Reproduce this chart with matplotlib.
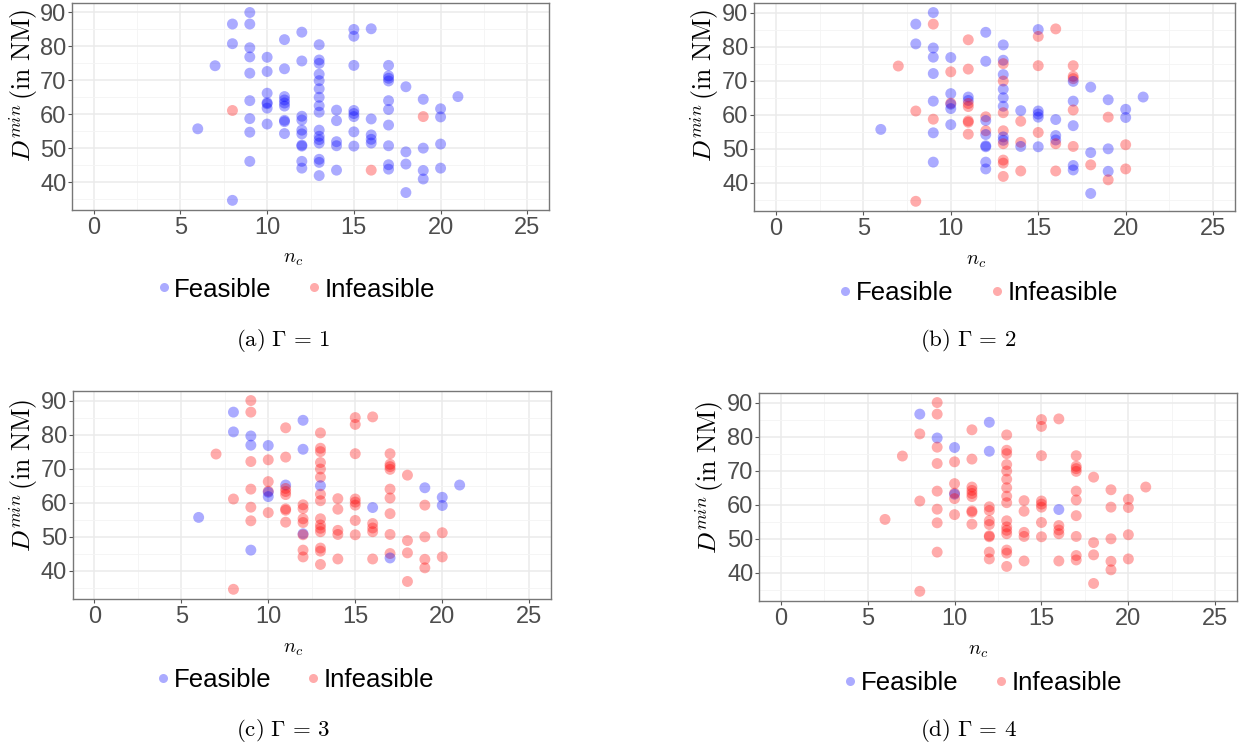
import matplotlib
matplotlib.use('Agg')
import matplotlib.pyplot as plt
from matplotlib.lines import Line2D
from matplotlib.ticker import MultipleLocator

# ---------------- data ----------------
nc = [6,
      7,
      8, 8, 8, 8,
      9, 9, 9, 9, 9, 9, 9, 9, 9,
      10, 10, 10, 10, 10, 10, 10,
      11, 11, 11, 11, 11, 11, 11, 11, 11,
      12, 12, 12, 12, 12, 12, 12, 12, 12, 12,
      13, 13, 13, 13, 13, 13, 13, 13, 13, 13, 13, 13, 13, 13, 13, 13,
      14, 14, 14, 14, 14,
      15, 15, 15, 15, 15, 15, 15, 15,
      16, 16, 16, 16, 16, 16,
      17, 17, 17, 17, 17, 17, 17, 17, 17, 17,
      18, 18, 18, 18,
      19, 19, 19, 19, 19,
      20, 20, 20, 20,
      21]
dmin = [55.7,
        74.3,
        86.6, 80.8, 61.1, 34.6,
        90.0, 86.6, 79.6, 76.9, 72.1, 64.0, 58.7, 54.7, 46.1,
        76.8, 72.6, 66.2, 63.4, 63.1, 61.8, 57.1,
        82.0, 73.4, 65.2, 64.2, 63.3, 62.4, 58.2, 57.8, 54.3,
        84.2, 75.7, 59.4, 58.3, 55.3, 54.2, 50.9, 50.6, 46.1, 44.1,
        80.5, 76.0, 75.0, 71.8, 69.9, 67.5, 65.0, 62.5, 60.6, 55.3, 53.5, 52.5, 51.5, 46.7, 45.8, 41.9,
        61.2, 58.1, 51.9, 50.7, 43.5,
        85.0, 83.0, 74.4, 61.1, 60.2, 59.3, 54.8, 50.6,
        85.2, 58.6, 53.9, 52.6, 51.5, 43.5,
        74.4, 71.3, 70.6, 69.8, 64.0, 61.4, 56.8, 50.7, 45.1, 43.8,
        68.1, 48.9, 45.3, 36.9,
        64.4, 59.3, 50.0, 43.4, 40.9,
        61.6, 59.2, 51.2, 44.1,
        65.2]
# largest Gamma for which the case is still feasible (0 = infeasible already at Gamma = 1)
feasible_up_to = [3,
                  1,
                  4, 3, 0, 1,
                  2, 1, 4, 3, 2, 2, 1, 2, 3,
                  4, 1, 2, 1, 4, 3, 2,
                  1, 1, 3, 2, 1, 1, 1, 1, 1,
                  4, 4, 1, 2, 1, 2, 3, 2, 2, 2,
                  2, 2, 1, 2, 1, 2, 3, 2, 1, 1, 2, 2, 1, 1, 1, 1,
                  2, 1, 1, 2, 1,
                  2, 1, 1, 2, 2, 2, 1, 2,
                  1, 4, 2, 2, 1, 0,
                  1, 1, 1, 2, 2, 1, 2, 1, 2, 3,
                  2, 2, 1, 2,
                  3, 0, 2, 2, 1,
                  3, 3, 1, 1,
                  3]
gammas = [1, 2, 3, 4]
panel_letters = ['a', 'b', 'c', 'd']
legend_labels = ['Feasible', 'Infeasible']
x_ticks = [0, 5, 10, 15, 20, 25]
y_ticks = [40, 50, 60, 70, 80, 90]

# ---------------- styling / layout ----------------
W, H = 1247, 749
BLUE = '#0000FF'
RED = '#FF0000'
ALPHA = 0.33
TICK_COLOR = '#4D4D4D'
SANS = ['Liberation Sans', 'DejaVu Sans']

plt.rcParams['mathtext.fontset'] = 'cm'

fig = plt.figure(figsize=(W / 100, H / 100), dpi=100)

def fx(x):
    return x / W

def fy(y):
    return 1 - y / H

# (left, top, right, bottom) in pixels
boxes = [(72, 3, 549, 209.5),
         (754, 3, 1235, 210.5),
         (72.5, 391, 551, 598.5),
         (759, 393, 1237, 600.5)]
ylabel_pos = [(24, 85), (705, 85), (24, 475), (710, 477)]
xlabel_pos = [(293, 258), (976, 261), (293, 648), (978, 651)]
# dot x, text x, dot x, text x, baseline y
legend_pos = [(164, 174, 314, 325, 297),
              (845, 856, 997, 1008, 300),
              (163, 174, 313, 324, 687),
              (850, 861, 1001, 1012, 690)]
caption_pos = [(283, 341), (968, 341), (283, 731), (968, 731)]

for i, g in enumerate(gammas):
    l, t, r, b = boxes[i]
    ax = fig.add_axes([fx(l), fy(b), fx(r) - fx(l), (b - t) / H])
    colors = [BLUE if th >= g else RED for th in feasible_up_to]
    ax.scatter(nc, dmin, s=62, c=colors, alpha=ALPHA, linewidths=0, zorder=3)
    ax.set_xlim(-1.25, 26.25)
    ax.set_ylim(31.9, 92.8)
    ax.set_xticks(x_ticks)
    ax.set_yticks(y_ticks)
    ax.xaxis.set_minor_locator(MultipleLocator(2.5))
    ax.yaxis.set_minor_locator(MultipleLocator(5))
    ax.grid(which='major', color='#EBEBEB', linewidth=1.1, zorder=0)
    ax.grid(which='minor', color='#F4F4F4', linewidth=0.6, zorder=0)
    ax.set_axisbelow(True)
    ax.tick_params(which='minor', length=0)
    ax.tick_params(which='major', length=3, width=0.8, color='#555555',
                   labelcolor=TICK_COLOR, labelsize=17)
    ax.tick_params(axis='x', pad=2.5)
    ax.tick_params(axis='y', pad=1)
    for lab in ax.get_xticklabels() + ax.get_yticklabels():
        lab.set_family(SANS)
    for sp in ax.spines.values():
        sp.set_color('#777777')
        sp.set_linewidth(1.0)

    # axis titles
    yx, yy = ylabel_pos[i]
    fig.text(fx(yx), fy(yy), r'$D^{min}\,\mathrm{(in\ NM)}$', rotation=90,
             ha='center', va='center', fontsize=18.5)
    xx, xy = xlabel_pos[i]
    fig.text(fx(xx), fy(xy), r'$n_c$', ha='center', va='center', fontsize=14.5)

    # legend
    d1, t1, d2, t2, ly = legend_pos[i]
    for dx, tx, col, lab in [(d1, t1, BLUE, legend_labels[0]),
                             (d2, t2, RED, legend_labels[1])]:
        fig.add_artist(Line2D([fx(dx)], [fy(ly - 9.5)], transform=fig.transFigure,
                              marker='o', markersize=6.5, markeredgewidth=0,
                              markerfacecolor=col, alpha=ALPHA, linestyle='none'))
        fig.text(fx(tx), fy(ly), lab, ha='left', va='baseline', fontsize=18.5,
                 family=SANS, color='black')

    # caption
    cx, cy = caption_pos[i]
    fig.text(fx(cx), fy(cy), r'$\mathrm{(%s)}\ \Gamma\,=\,%d$' % (panel_letters[i], g),
             ha='center', va='center', fontsize=16.5)

fig.savefig('out.png', dpi=100)
